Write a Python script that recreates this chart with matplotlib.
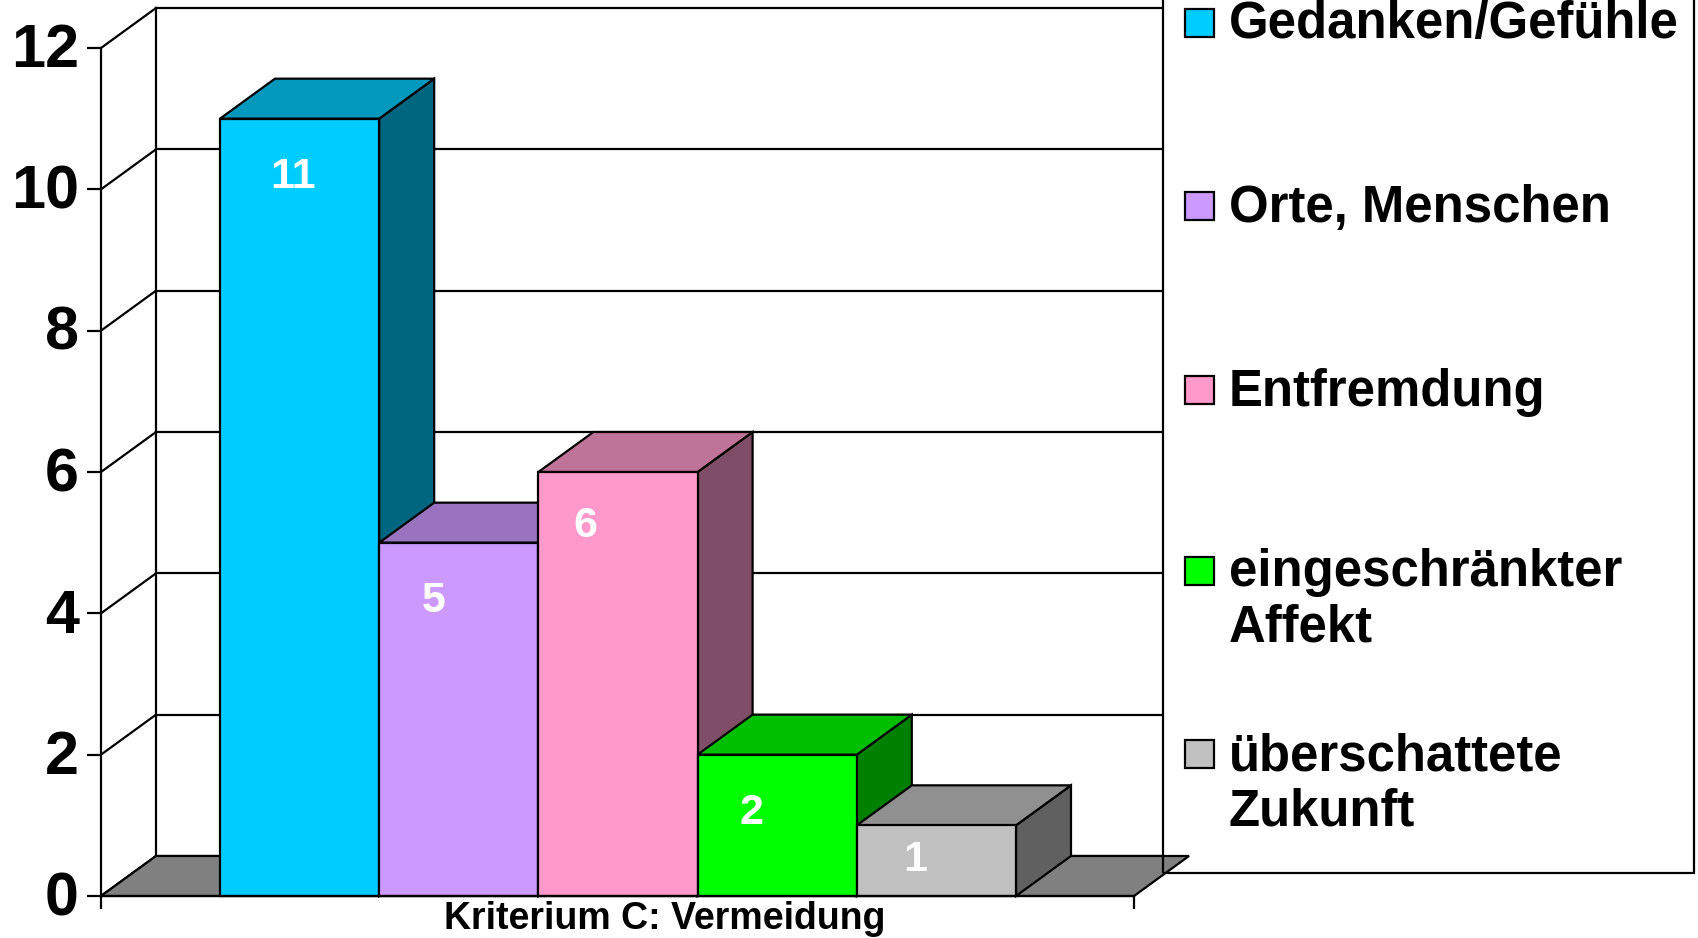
import matplotlib
matplotlib.use('Agg')
import matplotlib.pyplot as plt
from matplotlib.patches import Rectangle
from matplotlib.transforms import ScaledTranslation

plt.rcParams['font.family'] = ['Liberation Sans', 'DejaVu Sans']
plt.rcParams['font.weight'] = 'bold'

# --- data ---
categories = ['Gedanken/Gefühle', 'Orte, Menschen', 'Entfremdung',
              'eingeschränkter\nAffekt', 'überschattete\nZukunft']
values = [11, 5, 6, 2, 1]
y_ticks = [0, 2, 4, 6, 8, 10, 12]
x_label = 'Kriterium C: Vermeidung'

# front, top and side colours of the 3D bars
front_colors = ['#00CCFF', '#CC99FF', '#FF99CC', '#00FF00', '#C0C0C0']
top_colors = ['#0099BD', '#9973BF', '#BF7399', '#00BF00', '#909090']
side_colors = ['#006680', '#664D80', '#804D66', '#008000', '#606060']

W, H = 1698, 938
LW = 1.6


def fx(px):
    return px / W


def fy(py):
    return 1 - py / H


fig = plt.figure(figsize=(W / 100, H / 100), dpi=100, facecolor='white')

# axes = front plane of the 3D box
ax = fig.add_axes([fx(101), fy(896), 1033 / W, 848 / H])
x_max = 1033 / 159.2  # one unit = one bar width
ax.set_xlim(0, x_max)
ax.set_ylim(0, 12)
ax.patch.set_visible(False)

depth_x = 55 / 159.2
depth_y = 40 / (848 / 12)
bar_start = (220 - 101) / 159.2

for s in ['top', 'right']:
    ax.spines[s].set_visible(False)
for s in ['left', 'bottom']:
    ax.spines[s].set_linewidth(LW)
    ax.spines[s].set_zorder(6)

ax.set_yticks(y_ticks)
ax.set_xticks([0, x_max])
ax.set_xticklabels([])
ax.tick_params(axis='y', length=10, width=LW, pad=6, labelsize=44)
ax.tick_params(axis='x', length=9.5, width=LW)
ax.set_xlabel(x_label, fontsize=27, fontweight='bold', va='baseline')
ax.xaxis.set_label_coords((665 - 101) / 1033, -33 / 848)

# the tick numbers sit a little above their ticks
for lbl in ax.get_yticklabels():
    lbl.set_transform(lbl.get_transform() + ScaledTranslation(0, 2 / 72, fig.dpi_scale_trans))

# back wall and grid lines
for t in y_ticks:
    ax.plot([0, depth_x], [t, t + depth_y], color='black', lw=LW, zorder=1, clip_on=False)
    ax.plot([depth_x, x_max + depth_x], [t + depth_y, t + depth_y], color='black', lw=LW,
            zorder=1, clip_on=False)
ax.plot([depth_x, depth_x], [depth_y, 12 + depth_y], color='black', lw=LW, zorder=1, clip_on=False)

# legend box (white part sits over the grid, below the floor)
ax.add_patch(Rectangle((fx(1163), fy(873)), 531 / W, 900 / H, transform=fig.transFigure,
                       facecolor='white', edgecolor='none', zorder=1.5, clip_on=False))

# floor
ax.fill([0, x_max, x_max + depth_x, depth_x], [0, 0, depth_y, depth_y], facecolor='#808080',
        edgecolor='black', lw=LW, zorder=2, clip_on=False)

# legend border, over the floor
ax.add_patch(Rectangle((fx(1163), fy(873)), 531 / W, 900 / H, transform=fig.transFigure,
                       facecolor='none', edgecolor='black', lw=LW, zorder=2.5, clip_on=False))

# bars
for i, v in enumerate(values):
    x0 = bar_start + i
    x1 = x0 + 1
    z = 3 + i * 0.1
    ax.fill([x1, x1 + depth_x, x1 + depth_x, x1], [0, depth_y, v + depth_y, v],
            facecolor=side_colors[i], edgecolor='black', lw=LW, zorder=z, clip_on=False)
    ax.fill([x0, x0 + depth_x, x1 + depth_x, x1], [v, v + depth_y, v + depth_y, v],
            facecolor=top_colors[i], edgecolor='black', lw=LW, zorder=z, clip_on=False)
    ax.bar(x0, v, width=1, align='edge', color=front_colors[i], edgecolor='black',
           linewidth=LW, zorder=z, clip_on=False)

# value labels, offset from each bar's front top left corner
label_dx = [73, 54, 47, 53.5, 58]
label_dy = [58, 58, 54, 58, 35]
for i, v in enumerate(values):
    ax.annotate(str(v), (bar_start + i, v), xytext=(label_dx[i] * 0.72, -label_dy[i] * 0.72),
                textcoords='offset points', color='white', fontsize=31, fontweight='bold',
                ha='center', va='center', zorder=4)

# legend entries
swatch_top = [9, 192, 376, 557, 740]
text_base = [38, 222, 406, 586, 770]
for name, col, st, tb in zip(categories, front_colors, swatch_top, text_base):
    ax.add_patch(Rectangle((fx(1185), fy(st + 28)), 29 / W, 28 / H, transform=fig.transFigure,
                           facecolor=col, edgecolor='black', lw=LW, zorder=5, clip_on=False))
    for j, line in enumerate(name.split('\n')):
        fig.text(fx(1229), fy(tb + j * 55), line, fontsize=36.6, fontweight='bold',
                 ha='left', va='baseline', color='black')

fig.savefig('out.png', dpi=100, facecolor='white')
